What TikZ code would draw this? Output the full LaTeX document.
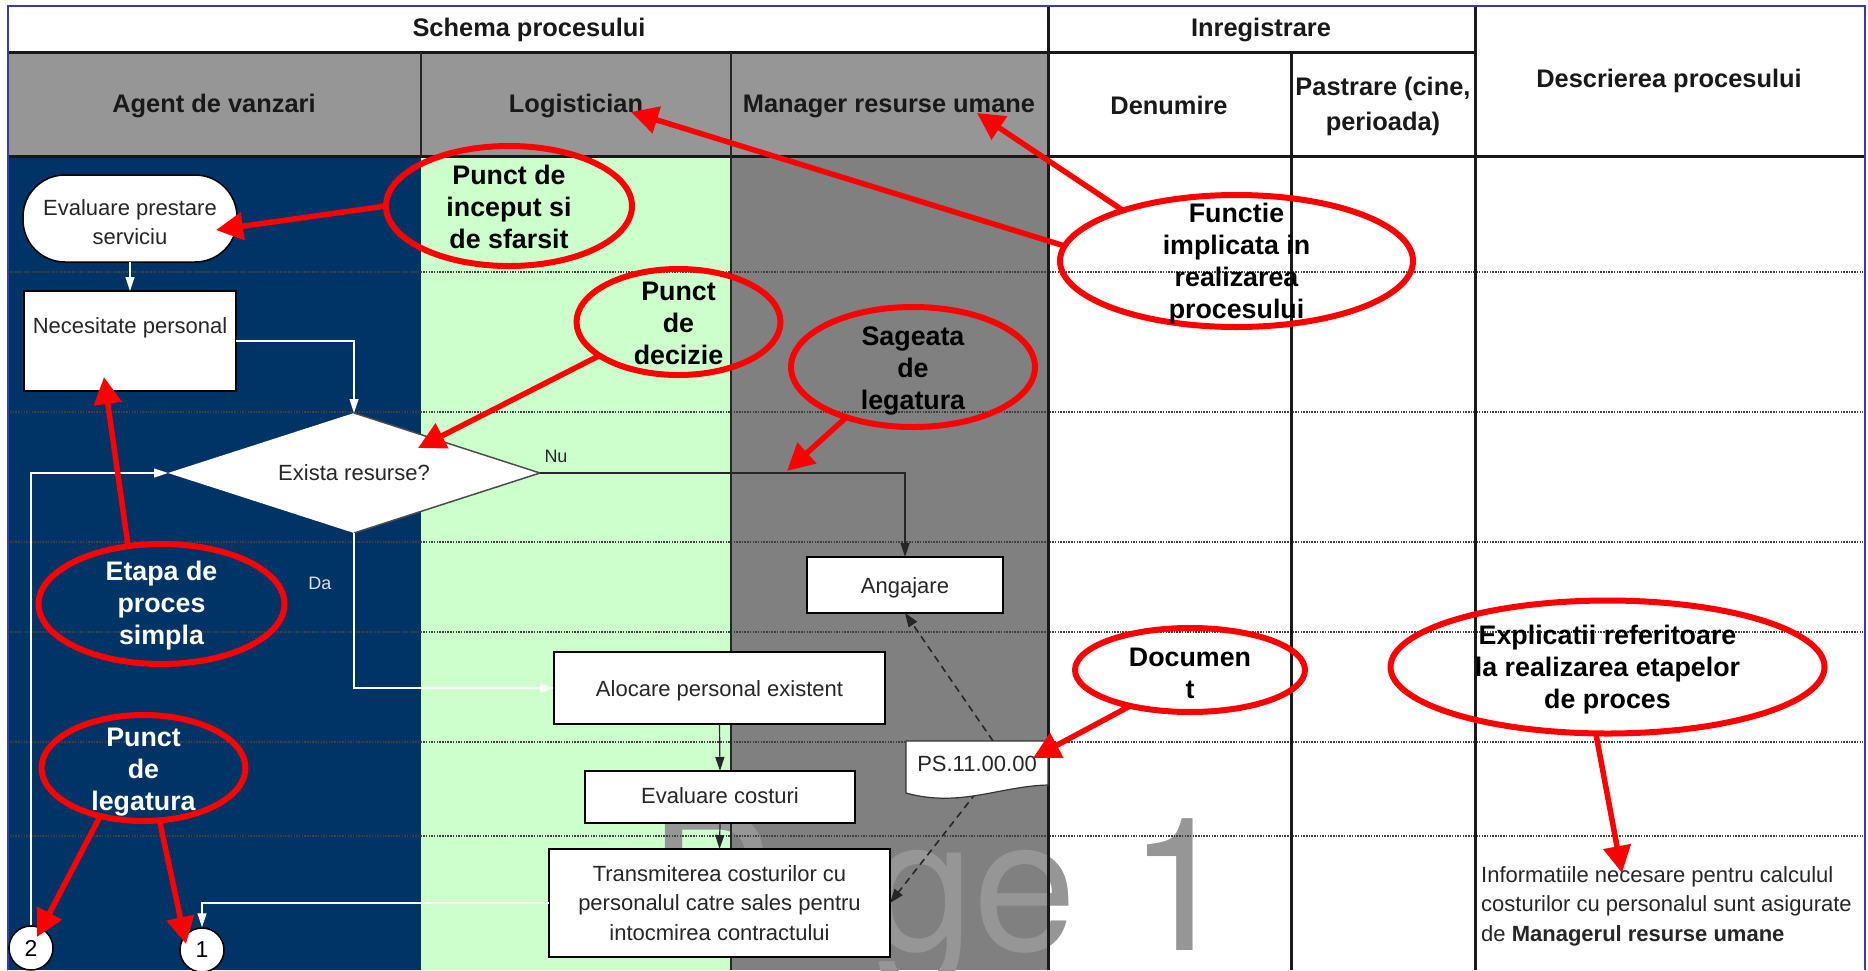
\documentclass[tikz,border=0pt]{standalone}
\usepackage{fontspec}
\setmainfont{Liberation Sans}
\newfontfamily\wmfont{TeX Gyre Heros}
\usetikzlibrary{arrows.meta,shapes.geometric}
\definecolor{navy}{HTML}{003366}
\definecolor{mint}{HTML}{CCFFCC}
\definecolor{darkcol}{HTML}{808080}
\definecolor{headgrey}{HTML}{969696}
\definecolor{frameblue}{HTML}{3B3BB0}
\definecolor{callred}{HTML}{FF0000}
\tikzset{
  x=1pt,y=-1pt,
  fl/.style={font=\fontsize{22}{29.5}\selectfont,align=center,text=black!85},
  box/.style={fl,draw=black,line width=1.5pt,fill=white,inner sep=0pt,outer sep=0pt},
  head/.style={font=\bfseries\fontsize{25.4}{35}\selectfont,align=center,text=black!90,inner sep=0pt},
  rowline/.style={line width=1.5pt,black!75,dash pattern=on 1.5pt off 1.2pt},
  gridline/.style={line width=3pt,black!90},
  thingrid/.style={line width=1.2pt,black!85},
  wflow/.style={line width=1.2pt,white,-{Triangle[length=14pt,width=9pt,fill=white]}},
  dflow/.style={line width=1.2pt,black!85,-{Triangle[length=14pt,width=9pt]}},
  dashflow/.style={line width=1.6pt,black!85,dash pattern=on 7pt off 5pt,-{Triangle[length=14pt,width=10pt]}},
  oval/.style={ellipse,draw=callred,line width=6pt,inner sep=0pt,outer sep=0pt},
  ovtext/.style={font=\bfseries\fontsize{26.8}{32}\selectfont,align=center,inner sep=0pt},
  ovtextw/.style={ovtext,text=white},
  callarrow/.style={line width=5.5pt,callred,-{Triangle[length=27pt,width=27pt]}},
  conn/.style={circle,draw=black,line width=1.5pt,fill=white,inner sep=0pt,minimum size=44pt,font=\fontsize{23}{28}\selectfont},
}
\begin{document}
\begin{tikzpicture}
\useasboundingbox (0,0) rectangle (1868,970);
\fill[white] (0,0) rectangle (1868,970);
% column fills
\fill[navy] (8,156) rectangle (421,970);
\fill[mint] (421,156) rectangle (731,970);
\fill[darkcol] (731,156) rectangle (1048,970);
\fill[headgrey] (8,52) rectangle (1048,156);
% watermark
\begin{scope}
\clip (0,0) rectangle (1868,970);
\node[anchor=base west,inner sep=0pt,text=headgrey,font=\wmfont\fontsize{186}{186}\selectfont] (wm) at (648,950) {Page 1};
\end{scope}
% row lines
\foreach \yy in {272,412,542,632,742,836}
  \draw[rowline] (10,\yy) -- (1863,\yy);
% grid
\draw[gridline] (8,52) -- (1475,52);
\draw[gridline] (8,156) -- (1865,156);
\draw[gridline] (1048,6) -- (1048,970);
\draw[gridline] (1291.5,52) -- (1291.5,970);
\draw[gridline] (1475,6) -- (1475,970);
\draw[thingrid] (421,52) -- (421,156);
\draw[thingrid] (731,52) -- (731,970);
\draw[line width=1.5pt,frameblue] (8,970) -- (8,6) -- (1865,6) -- (1865,970);
% headers
\node[head] (h1) at (529,30) {Schema procesului};
\node[head] (h2) at (1261,30) {Inregistrare};
\node[head] (h3) at (214,106) {Agent de vanzari};
\node[head] (h4) at (576,106) {Logistician};
\node[head] (h5) at (889,106) {Manager resurse umane};
\node[head] (h6) at (1169,105) {Denumire};
\node[head] (h7) at (1383,106) {Pastrare (cine,\\perioada)};
\node[head] (h8) at (1669,81) {Descrierea procesului};
% flow shapes
\node[box,rounded corners=42pt,minimum width=214pt,minimum height=87pt] (term) at (130,218.5) {\rule{0pt}{23pt}Evaluare prestare\\serviciu};
\node[box,minimum width=212pt,minimum height=100pt] (nec) at (130,341) {\raisebox{8pt}[0pt][0pt]{Necesitate personal}};
\node[diamond,aspect=3.1,fill=white,fl,inner sep=0pt,outer sep=0pt,minimum width=372pt,minimum height=120pt] (dia) at (354,473) {\raisebox{-7.5pt}[0pt][0pt]{Exista resurse?}};
\draw[black!70,line width=1.5pt] (dia.north) -- (dia.east) -- (dia.south);
\node[box,minimum width=196pt,minimum height=56pt] (ang) at (905,585) {\raisebox{-8pt}[0pt][0pt]{Angajare}};
\node[box,minimum width=331pt,minimum height=72pt] (aloc) at (719.5,688) {\raisebox{-8.5pt}[0pt][0pt]{Alocare personal existent}};
\node[box,minimum width=270pt,minimum height=52pt] (eval) at (720,797) {\raisebox{-6.5pt}[0pt][0pt]{Evaluare costuri}};
\node[box,minimum width=341pt,minimum height=108pt] (trans) at (719.5,903) {Transmiterea costurilor cu\\personalul catre sales pentru\\intocmirea contractului};
\node[conn] (c2) at (31,948) {2};
\node[conn] (c1) at (202,950) {1};
\node[fl,anchor=center] (nu) at (556,456) {\fontsize{18}{20}\selectfont Nu};
\node[fl,anchor=center,text=white!85!navy] (da) at (320,583) {\fontsize{18}{20}\selectfont Da};
\node[fl,anchor=west,align=left,inner sep=0pt] (desc) at (1481,906) {Informatiile necesare pentru calculul\\costurilor cu personalul sunt asigurate\\de \textbf{Managerul resurse umane}};
% connectors
\coordinate (dtop) at (993,741);
\coordinate (dbot) at (976,793);
\draw[wflow] (term.south) -- (nec.north);
\draw[wflow] (nec.east) -| (dia.north);
\draw[wflow] (c2.north) |- (dia.west);
\draw[dflow] (dia.east) -| (ang.north);
\draw[wflow] (dia.south) |- (aloc.west);
\draw[dflow] (aloc.south) -- (eval.north);
\draw[dflow] (eval.south) -- (trans.north);
\draw[wflow] (trans.west) -| (c1.north);
\draw[dashflow] (dtop) -- (ang.south);
\draw[dashflow] (dbot) -- (trans.east);
% document
\coordinate (dnw) at (906,741);
\coordinate (dne) at (1048,741);
\coordinate (dse) at (1048,785);
\coordinate (dsw) at (906,793);
\path[fill=white,draw=black!80,line width=1.2pt]
  (dnw) -- (dne) -- (dse) .. controls (1000,786) and (960,808) .. (dsw) -- cycle;
\node[fl,inner sep=0pt] (doc) at (977,764) {PS.11.00.00};
% callouts
\node[oval,minimum width=246pt,minimum height=120pt,label={[ovtext,yshift=-0.5pt]center:{Punct de\\inceput si\\de sfarsit}}] (e1) at (509,206) {};
\node[oval,minimum width=204pt,minimum height=106pt,label={[ovtext,yshift=-1pt]center:{Punct\\de\\decizie}}] (e2) at (678.5,322) {};
\node[oval,minimum width=244pt,minimum height=120pt,label={[ovtext,yshift=-4pt]center:{Sageata\\de\\legatura}}] (e3) at (913,367) {};
\node[oval,minimum width=353pt,minimum height=132pt,label={[ovtext,yshift=-3pt]center:{Functie\\implicata in\\realizarea\\procesului}}] (e4) at (1236.5,261) {};
\node[oval,minimum width=246pt,minimum height=120pt,label={[ovtextw,yshift=-2pt]center:{Etapa de\\proces\\simpla}}] (e5) at (161.5,604) {};
\node[oval,minimum width=204pt,minimum height=106pt,label={[ovtextw,yshift=-4pt]center:{Punct\\de\\legatura}}] (e6) at (143.5,768) {};
\node[oval,minimum width=230pt,minimum height=84pt,label={[ovtext,yshift=-3pt]center:{Documen\\t}}] (e7) at (1190,670) {};
\node[oval,minimum width=434pt,minimum height=133pt,label={[ovtext,yshift=-3pt]center:{Explicatii referitoare\\la realizarea etapelor\\de proces}}] (e8) at (1607.5,667) {};
% callout targets
\coordinate (t1) at (216,230);
\coordinate (t2) at (418,448);
\coordinate (t3) at (787,471);
\coordinate (t4a) at (631,112);
\coordinate (t4b) at (977,113);
\coordinate (t5) at (104,377);
\coordinate (t6a) at (37,937);
\coordinate (t6b) at (186,944);
\coordinate (t7) at (1033,758);
\coordinate (t8) at (1622,873);
\draw[callarrow] (e1.west) -- (t1);
\draw[callarrow] (e2.203) -- (t2);
\draw[callarrow] (e3.217) -- (t3);
\draw[callarrow] (e4.175) -- (t4a);
\draw[callarrow] (e4.156) -- (t4b);
\draw[callarrow] (e5.120) -- (t5);
\draw[callarrow] (e6.228) -- (t6a);
\draw[callarrow] (e6.287) -- (t6b);
\draw[callarrow] (e7.211) -- (t7);
\draw[callarrow] (e8.260) -- (t8);
\end{tikzpicture}
\end{document}
